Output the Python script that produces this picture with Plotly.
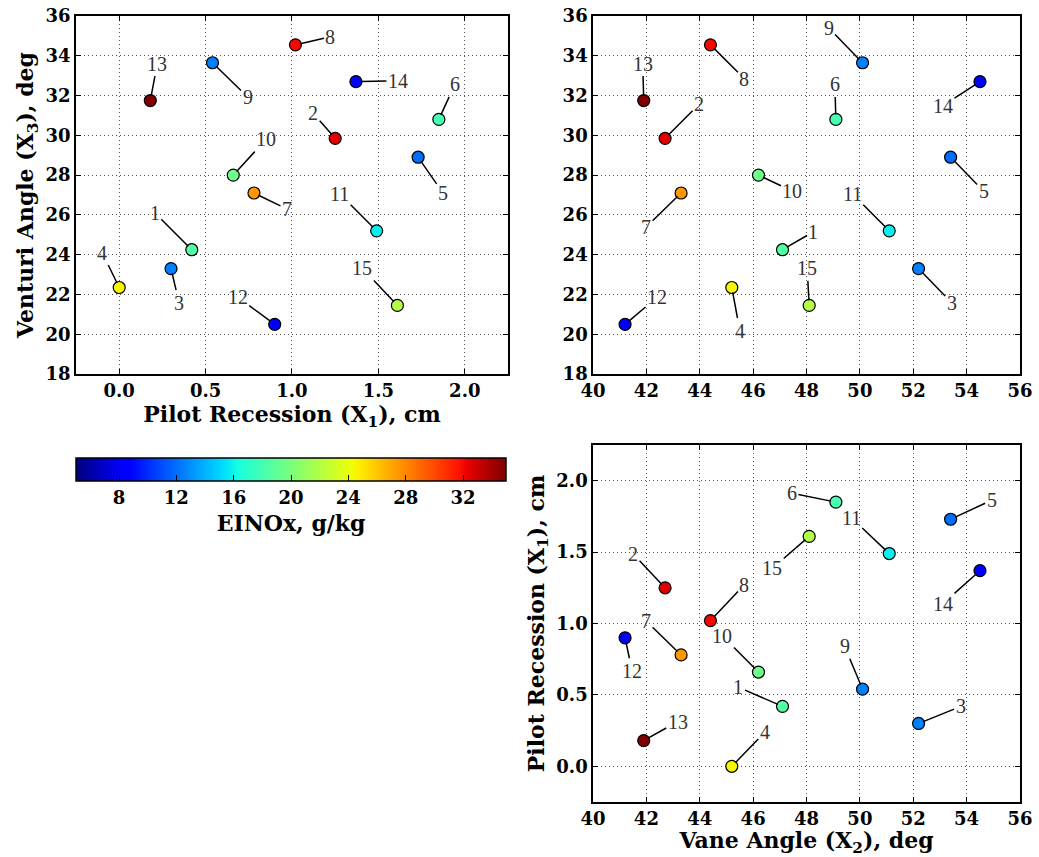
import numpy as np
import plotly.graph_objects as go

# ---------------- data ----------------
run_ids = [str(i) for i in range(1, 16)]
pilot_recession = [0.42, 1.25, 0.30, 0.00, 1.73, 1.85, 0.78, 1.02, 0.54, 0.66, 1.49, 0.90, 0.18, 1.37, 1.61]
vane_angle = [47.1, 42.7, 52.2, 45.2, 53.4, 49.1, 43.3, 44.4, 50.1, 46.2, 51.1, 41.2, 41.9, 54.5, 48.1]
venturi_angle = [24.25, 29.85, 23.3, 22.35, 28.9, 30.8, 27.1, 34.55, 33.65, 28.0, 25.2, 20.5, 31.75, 32.7, 21.45]
einox = [18.5, 32.5, 12.5, 24.5, 12.0, 18.0, 27.5, 32.0, 12.5, 19.5, 15.8, 8.5, 35.0, 8.5, 22.0]

cbar_ticks = [8, 12, 16, 20, 24, 28, 32]
cmin, cmax = 5.0, 35.0

# label offsets (pixels, text relative to marker) for each panel
off_tl = [(-37, -37), (-22, -25), (8, 34), (-17, -35), (25, 36), (16, -35), (33, 16), (35, -8),
          (35, 34), (33, -36), (-37, -37), (-37, -27), (7, -37), (42, -1), (-35, -37)]
off_tr = [(31, -18), (34, -34), (33, 34), (8, 43), (33, 34), (-1, -35), (-35, 34), (34, 34),
          (-34, -35), (34, 16), (-37, -37), (32, -27), (-1, -37), (-37, 24), (-2, -37)]
off_br = [(-44, -19), (-32, -34), (42, -17), (33, -34), (41, -19), (-44, -9), (-35, -34), (34, -36),
          (-18, -43), (-36, -36), (-38, -36), (7, 33), (34, -19), (-37, 33), (-37, 32)]

# ---------------- matplotlib-like jet colorscale ----------------
_r = [(0, 0), (0.35, 0), (0.66, 1), (0.89, 1), (1, 0.5)]
_g = [(0, 0), (0.125, 0), (0.375, 1), (0.64, 1), (0.91, 0), (1, 0)]
_b = [(0, 0.5), (0.11, 1), (0.34, 1), (0.65, 0), (1, 0)]
def _ch(seg, t):
    xs, ys = zip(*seg)
    return float(np.interp(t, xs, ys))
stops = sorted(set([0, 0.11, 0.125, 0.34, 0.35, 0.375, 0.5, 0.64, 0.65, 0.66, 0.75, 0.89, 0.91, 1.0]))
jet = [[t, "rgb(%d,%d,%d)" % (round(255 * _ch(_r, t)), round(255 * _ch(_g, t)), round(255 * _ch(_b, t)))]
       for t in stops]

# ---------------- figure ----------------
BOLD = "DejaVu Serif"
SERIF = "Liberation Serif"
tick_font = dict(family=BOLD, size=18, color="black", weight="bold")
title_font = dict(family=BOLD, size=22, color="black", weight="bold")

fig = go.Figure()

panels = [
    ("x", "y", pilot_recession, venturi_angle, off_tl),
    ("x2", "y2", vane_angle, venturi_angle, off_tr),
    ("x3", "y3", vane_angle, pilot_recession, off_br),
]

annotations = []
for xa, ya, xs, ys, offs in panels:
    fig.add_trace(go.Scatter(
        x=xs, y=ys, xaxis=xa, yaxis=ya, mode="markers",
        marker=dict(size=12, color=einox, coloraxis="coloraxis",
                    line=dict(color="black", width=1.2)),
        text=run_ids, hovertemplate="%{text}<extra></extra>", showlegend=False))
    for lab, x, y, (dx, dy) in zip(run_ids, xs, ys, offs):
        annotations.append(dict(
            x=x, y=y, xref=xa, yref=ya, text=lab, showarrow=True,
            ax=dx, ay=dy, arrowhead=0, arrowwidth=1.5, arrowcolor="black",
            standoff=5, font=dict(family=SERIF, size=20, color="#333333")))

grid = dict(showgrid=True, gridcolor="#555555", griddash="1px,3px", gridwidth=1,
            showline=True, linecolor="black", linewidth=1.5, mirror="ticks",
            ticks="inside", ticklen=5, tickcolor="black", zeroline=False,
            tickfont=tick_font, automargin=False)

D_L = [0.0, 0.4576]
D_R = [0.5477, 1.0]
D_T = [0.5445, 1.0]
D_B = [0.0, 0.4542]

fig.update_layout(
    width=1039, height=857,
    margin=dict(l=76, r=19, t=16, b=55),
    paper_bgcolor="white", plot_bgcolor="white",
    font=dict(family=SERIF),
    xaxis=dict(domain=D_L, anchor="y", range=[-0.25, 2.25], tick0=0, dtick=0.5, tickformat=".1f",
               title=dict(text="Pilot Recession (X<sub>1</sub>), cm", font=title_font, standoff=2), **grid),
    yaxis=dict(domain=D_T, anchor="x", range=[18, 36], dtick=2,
               title=dict(text="Venturi Angle (X<sub>3</sub>), deg", font=title_font, standoff=6), **grid),
    xaxis2=dict(domain=D_R, anchor="y2", range=[40, 56], dtick=2, **grid),
    yaxis2=dict(domain=D_T, anchor="x2", range=[18, 36], dtick=2, **grid),
    xaxis3=dict(domain=D_R, anchor="y3", range=[40, 56], dtick=2,
                title=dict(text="Vane Angle (X<sub>2</sub>), deg", font=title_font, standoff=2), **grid),
    yaxis3=dict(domain=D_B, anchor="x3", range=[-0.25, 2.25], tick0=0, dtick=0.5, tickformat=".1f",
                title=dict(text="Pilot Recession (X<sub>1</sub>), cm", font=title_font, standoff=6), **grid),
    coloraxis=dict(
        colorscale=jet, cmin=cmin, cmax=cmax,
        colorbar=dict(
            orientation="h", x=0.2278, xanchor="center", y=0.4377, yanchor="top",
            len=0.4555, lenmode="fraction", thickness=23, thicknessmode="pixels",
            xpad=0, ypad=0, outlinecolor="black", outlinewidth=1.5,
            tickvals=cbar_ticks, ticks="inside", ticklen=6, tickcolor="black",
            tickfont=tick_font,
            title=dict(text="EINOx, g/kg", side="bottom", font=title_font))),
    annotations=annotations,
)

fig.write_html("out.html", config={"displayModeBar": False},
               post_script="document.body.style.margin='0';")
